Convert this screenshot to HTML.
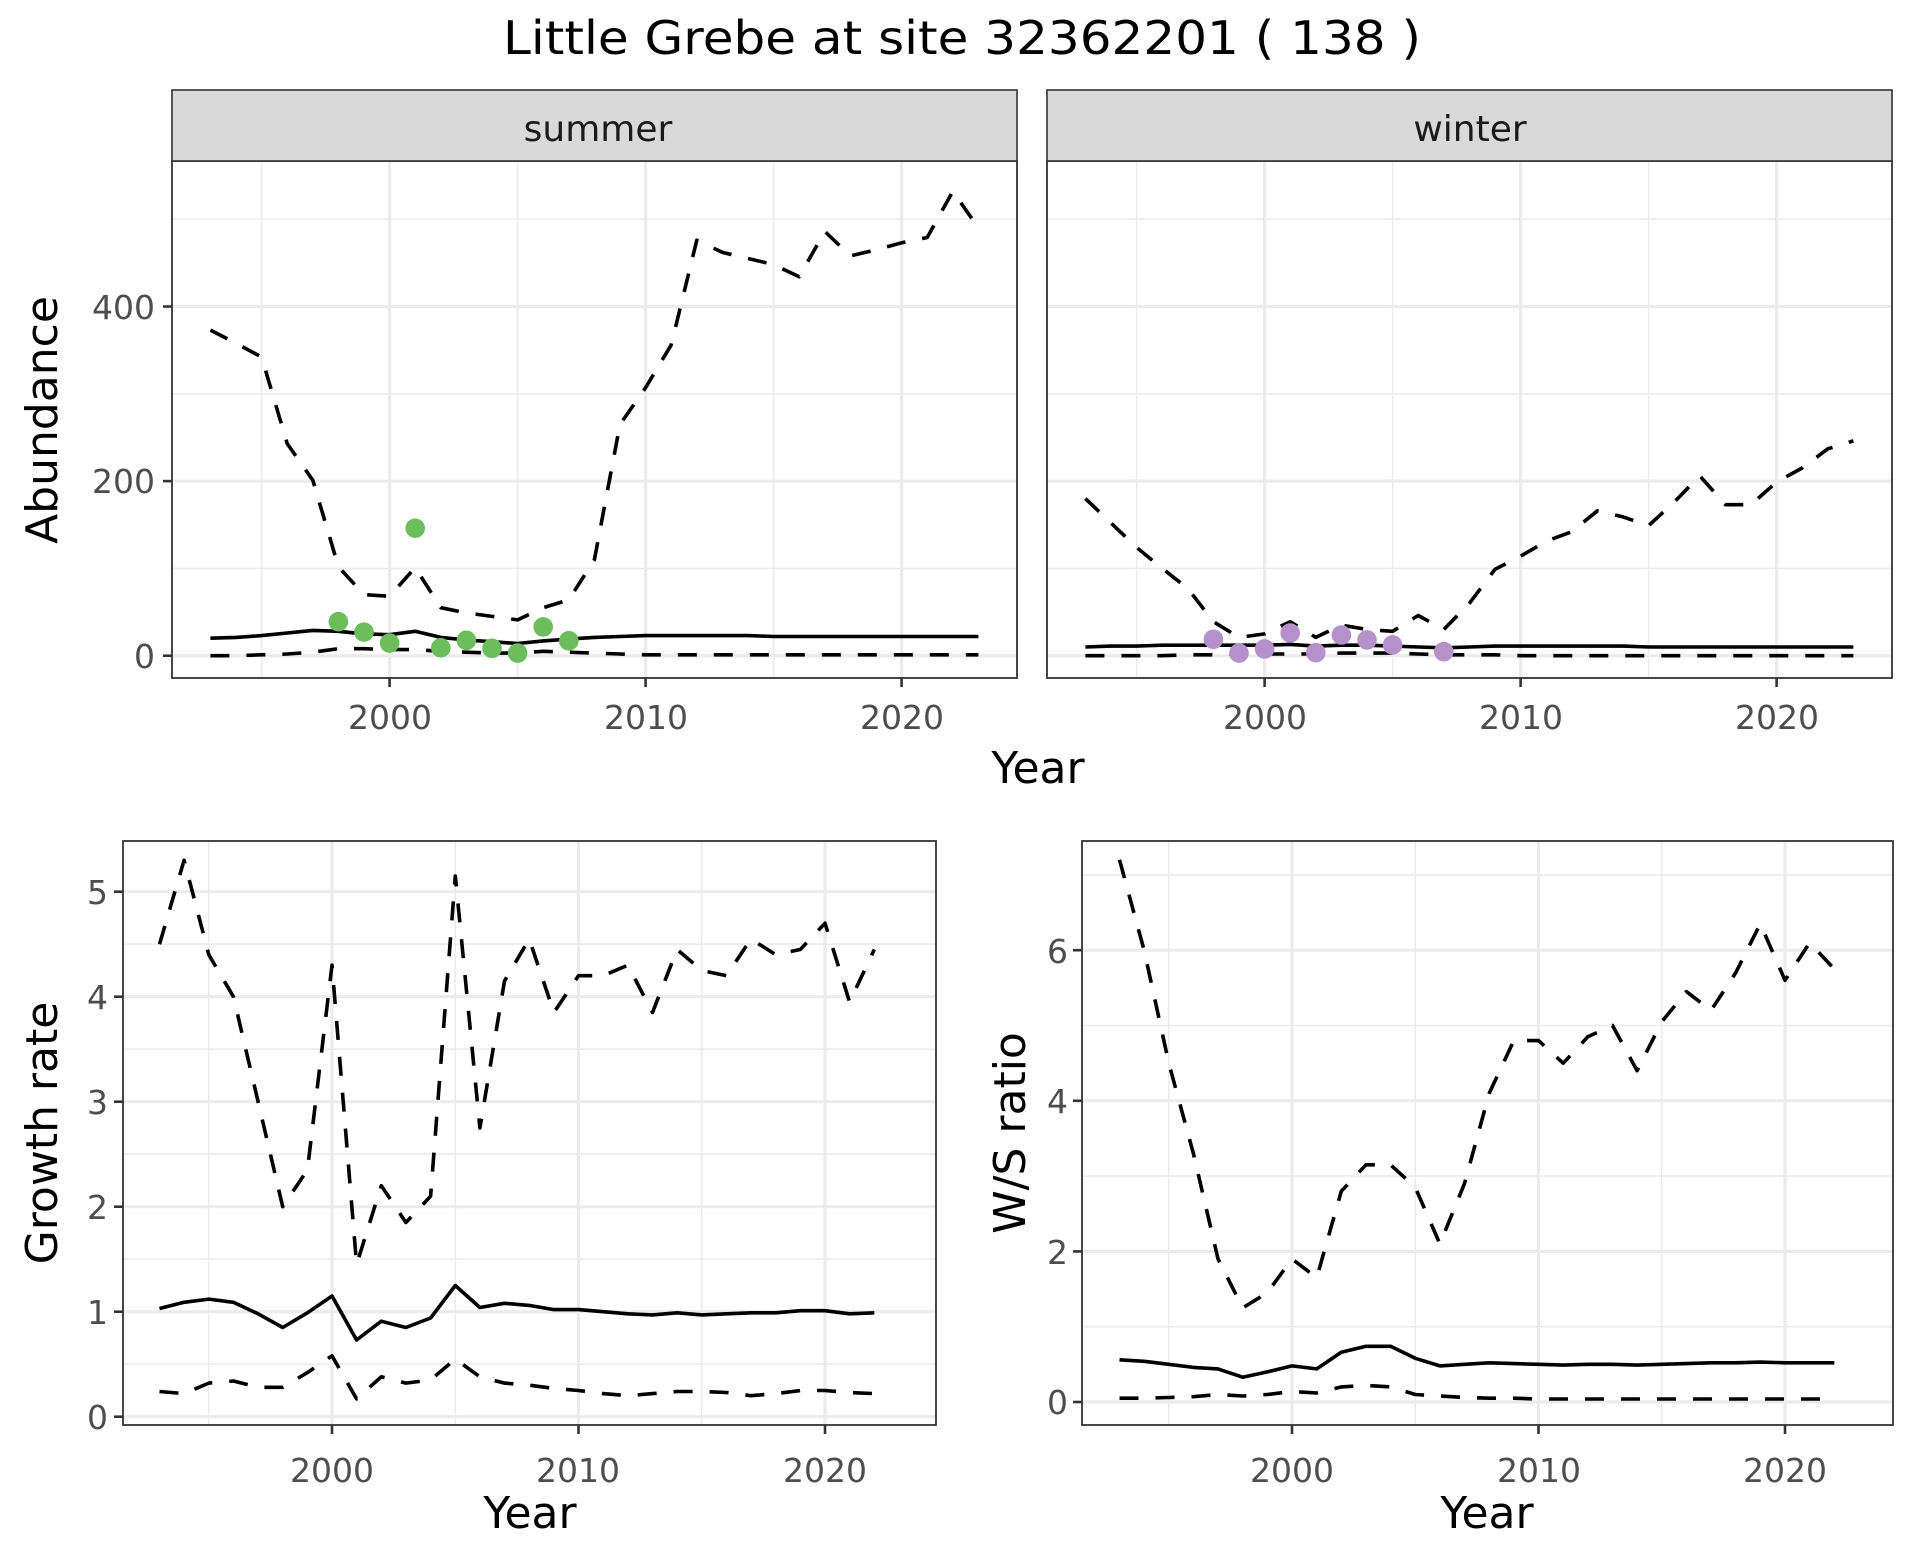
<!DOCTYPE html>
<html><head><meta charset="utf-8"><style>
html,body{margin:0;padding:0;background:#fff;}
svg{display:block;}
text{font-family:"DejaVu Sans","Liberation Sans",sans-serif;}
</style></head><body>
<svg id="s" width="1920" height="1560" viewBox="0 0 1920 1560" xmlns="http://www.w3.org/2000/svg">
<rect width="1920" height="1560" fill="#fff"/>
<g id="grid"></g>
<g id="data"></g>
<g id="frame"></g>
<text x="962" y="54" font-size="46" text-anchor="middle" fill="#000" textLength="918" lengthAdjust="spacingAndGlyphs">Little Grebe at site 32362201 ( 138 )</text>
<rect x="172" y="90" width="845" height="71" fill="#d9d9d9" stroke="#333" stroke-width="1.6"/>
<rect x="1047" y="90" width="845" height="71" fill="#d9d9d9" stroke="#333" stroke-width="1.6"/>
<text x="598" y="141" font-size="36" text-anchor="middle" fill="#1a1a1a">summer</text>
<text x="1470" y="141" font-size="36" text-anchor="middle" fill="#1a1a1a">winter</text>
<g font-size="33" fill="#4d4d4d" text-anchor="end">
<text x="155" y="668">0</text><text x="155" y="493">200</text><text x="155" y="319">400</text>
</g>
<g font-size="33" fill="#4d4d4d" text-anchor="middle">
<text x="390" y="729">2000</text><text x="646" y="729">2010</text><text x="902" y="729">2020</text>
<text x="1265" y="729">2000</text><text x="1521" y="729">2010</text><text x="1777" y="729">2020</text>
</g>
<text x="1038" y="783" font-size="44" text-anchor="middle" fill="#000">Year</text>
<text transform="translate(57,420) rotate(-90)" font-size="44" text-anchor="middle" fill="#000">Abundance</text>
<g font-size="33" fill="#4d4d4d" text-anchor="end">
<text x="108" y="1429">0</text><text x="108" y="1324">1</text><text x="108" y="1219">2</text>
<text x="108" y="1114">3</text><text x="108" y="1009">4</text><text x="108" y="904">5</text>
<text x="1068" y="1414">0</text><text x="1068" y="1264">2</text><text x="1068" y="1113">4</text><text x="1068" y="963">6</text>
</g>
<g font-size="33" fill="#4d4d4d" text-anchor="middle">
<text x="332" y="1482">2000</text><text x="578" y="1482">2010</text><text x="825" y="1482">2020</text>
<text x="1292" y="1482">2000</text><text x="1539" y="1482">2010</text><text x="1785" y="1482">2020</text>
</g>
<text x="530" y="1528" font-size="44" text-anchor="middle" fill="#000">Year</text>
<text x="1487" y="1528" font-size="44" text-anchor="middle" fill="#000">Year</text>
<text transform="translate(57,1133) rotate(-90)" font-size="44" text-anchor="middle" fill="#000">Growth rate</text>
<text transform="translate(1025,1133) rotate(-90)" font-size="44" text-anchor="middle" fill="#000">W/S ratio</text>
</svg>
<script>
(function(){
var NS="http://www.w3.org/2000/svg";
function el(par,tag,a){var e=document.createElementNS(NS,tag);for(var k in a)e.setAttribute(k,a[k]);document.getElementById(par).appendChild(e);return e;}
function yrs(a,b){var r=[];for(var i=a;i<=b;i++)r.push(i);return r;}
function panel(P){
 P.xMin.forEach(function(v){var x=P.fx(v);el("grid","line",{x1:x,x2:x,y1:P.y0,y2:P.y1,stroke:"#ebebeb","stroke-width":1.6});});
 P.yMin.forEach(function(v){var y=P.fy(v);if(y<P.y0||y>P.y1)return;el("grid","line",{x1:P.x0,x2:P.x1,y1:y,y2:y,stroke:"#ebebeb","stroke-width":1.6});});
 P.xMaj.forEach(function(v){var x=P.fx(v);el("grid","line",{x1:x,x2:x,y1:P.y0,y2:P.y1,stroke:"#ebebeb","stroke-width":3.2});
   el("frame","line",{x1:x,x2:x,y1:P.y1,y2:P.y1+9,stroke:"#333","stroke-width":2.6});});
 P.yMaj.forEach(function(v){var y=P.fy(v);el("grid","line",{x1:P.x0,x2:P.x1,y1:y,y2:y,stroke:"#ebebeb","stroke-width":3.2});
   if(P.ticks)el("frame","line",{x1:P.x0-9,x2:P.x0,y1:y,y2:y,stroke:"#333","stroke-width":2.6});});
 el("frame","rect",{x:P.x0,y:P.y0,width:P.x1-P.x0,height:P.y1-P.y0,fill:"none",stroke:"#333","stroke-width":1.8});
}
function line(P,ys,vals,dash){
 var d="";for(var i=0;i<vals.length;i++){d+=(i?"L":"M")+P.fx(ys[i]).toFixed(1)+","+P.fy(vals[i]).toFixed(1);}
 var a={d:d,fill:"none",stroke:"#000","stroke-width":3.6,"stroke-linejoin":"round"};
 if(dash)a["stroke-dasharray"]="19 17";
 el("data","path",a);
}
function pts(P,arr,col){arr.forEach(function(p){el("data","circle",{cx:P.fx(p[0]),cy:P.fy(p[1]),r:9.8,fill:col});});}

var ysT=yrs(1993,2023);
var S={x0:172,x1:1017,y0:161,y1:678,fx:function(y){return 172+(y-1991.5)*25.6;},fy:function(v){return 655.7-v*0.873;},
 xMaj:[2000,2010,2020],xMin:[1995,2005,2015],yMaj:[0,200,400],yMin:[100,300,500],ticks:true};
var W={x0:1047,x1:1892,y0:161,y1:678,fx:function(y){return 1047+(y-1991.5)*25.6;},fy:S.fy,
 xMaj:[2000,2010,2020],xMin:[1995,2005,2015],yMaj:[0,200,400],yMin:[100,300,500],ticks:false};
panel(S);panel(W);
line(S,ysT,[373,358,342,243,201,102,70,68,101,55,49,45,41,55,64,110,265,307,356,476,462,455,448,434,486,458,465,473,479,532,490],true);
line(S,ysT,[20,21,23,26,29,28,25,24,28,21,18,16,14,17,19,21,22,23,23,23,23,23,22,22,22,22,22,22,22,22,22],false);
line(S,ysT,[0,0,1,2,4,8,8,7,7,5,4,3,3,5,4,3,2,1,1,1,1,1,1,1,1,1,1,1,1,1,1],true);
pts(S,[[1998,39],[1999,27],[2000,14.5],[2001,146],[2002,9],[2003,17.6],[2004,8.5],[2005,3],[2006,33],[2007,17]],"#6cbd5b");

line(W,ysT,[180,152,124,100,77,39,21,25,39,21,35,30,28,46,30,60,99,114,131,142,166,159,149,176,206,173,173,199,215,237,246],true);
line(W,ysT,[10,11,11,12,12,12,12,12,13,11,12,12,11,10,9,10,11,11,11,11,11,11,10,10,10,10,10,10,10,10,10],false);
line(W,ysT,[0,0,0,0,1,1,2,2,2,2,3,3,3,2,1,1,1,0,0,0,0,0,0,0,0,0,0,0,0,0,0],true);
pts(W,[[1998,18.8],[1999,3],[2000,7.7],[2001,26],[2002,3.5],[2003,23.7],[2004,18],[2005,12.3],[2007,4.6]],"#b491c8");

var ysB=yrs(1993,2022);
var G={x0:123,x1:936,y0:841,y1:1425,fx:function(y){return 332+(y-2000)*24.65;},fy:function(v){return 1416.7-v*105;},
 xMaj:[2000,2010,2020],xMin:[1995,2005,2015],yMaj:[0,1,2,3,4,5],yMin:[0.5,1.5,2.5,3.5,4.5],ticks:true};
panel(G);
line(G,ysB,[4.5,5.3,4.4,4.0,3.0,2.0,2.35,4.3,1.45,2.2,1.85,2.1,5.15,2.75,4.15,4.55,3.85,4.2,4.2,4.3,3.85,4.45,4.25,4.2,4.55,4.4,4.45,4.7,3.95,4.45],true);
line(G,ysB,[1.03,1.09,1.12,1.09,0.98,0.85,0.99,1.15,0.73,0.91,0.85,0.94,1.25,1.04,1.08,1.06,1.02,1.02,1.0,0.98,0.97,0.99,0.97,0.98,0.99,0.99,1.01,1.01,0.98,0.99],false);
line(G,ysB,[0.24,0.22,0.32,0.34,0.28,0.28,0.42,0.58,0.17,0.38,0.32,0.35,0.55,0.38,0.32,0.3,0.27,0.25,0.22,0.2,0.22,0.24,0.24,0.23,0.2,0.22,0.25,0.25,0.23,0.22],true);

var R={x0:1082,x1:1893,y0:841,y1:1425,fx:function(y){return 1292+(y-2000)*24.65;},fy:function(v){return 1402-v*75.3;},
 xMaj:[2000,2010,2020],xMin:[1995,2005,2015],yMaj:[0,2,4,6],yMin:[1,3,5,7],ticks:true};
panel(R);
line(R,ysB,[7.2,6.0,4.5,3.3,1.9,1.25,1.45,1.9,1.65,2.8,3.15,3.15,2.85,2.1,2.9,4.1,4.8,4.8,4.5,4.85,5.0,4.4,5.05,5.45,5.2,5.7,6.35,5.6,6.1,5.75],true);
line(R,ysB,[0.56,0.54,0.5,0.46,0.44,0.33,0.4,0.48,0.44,0.66,0.74,0.74,0.58,0.48,0.5,0.52,0.51,0.5,0.49,0.5,0.5,0.49,0.5,0.51,0.52,0.52,0.53,0.52,0.52,0.52],false);
line(R,ysB,[0.05,0.05,0.06,0.07,0.1,0.08,0.1,0.14,0.12,0.2,0.22,0.2,0.1,0.08,0.06,0.05,0.05,0.04,0.04,0.04,0.04,0.04,0.04,0.04,0.04,0.04,0.04,0.04,0.04,0.04],true);
})();
</script>
</body></html>
